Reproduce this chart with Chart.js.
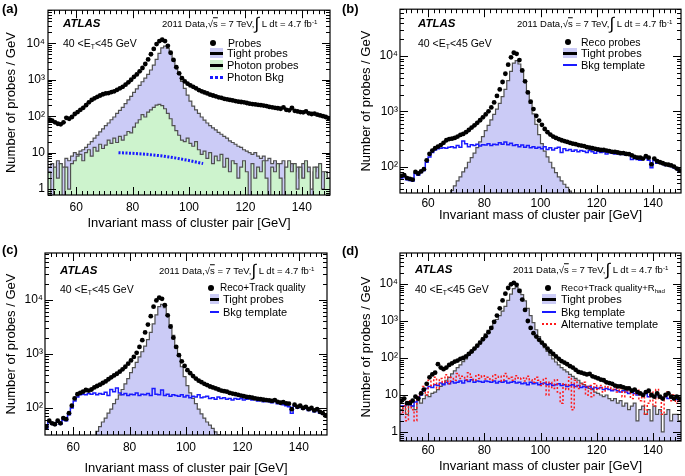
<!DOCTYPE html>
<html>
<head>
<meta charset="utf-8">
<script src="https://cdn.jsdelivr.net/npm/chart.js@4.4.0/dist/chart.umd.min.js"></script>
<style>
  body { margin: 0; background: #fff; width: 685px; height: 476px; position: relative; overflow: hidden;
         font-family: "Liberation Sans", Arial, sans-serif; color: #000; }
  canvas { position: absolute; }
  .t { position: absolute; white-space: nowrap; line-height: 1; transform: translateY(-50%); }
  .t sub { font-size: 65%; vertical-align: -0.35em; line-height: 0; }
  .t sup { font-size: 65%; vertical-align: 0.6em; line-height: 0; }
  .int { font-size: 17px; line-height: 0; vertical-align: -0.12em; }
  .m { position: absolute; }
</style>
</head>
<body>
<canvas id="pa" width="342" height="236" style="left:0;top:0"></canvas>
<canvas id="pb" width="343" height="236" style="left:342px;top:0"></canvas>
<canvas id="pc" width="342" height="240" style="left:0;top:236px"></canvas>
<canvas id="pd" width="343" height="240" style="left:342px;top:236px"></canvas>
<script>
// bins of 1 GeV, low edges 50 .. 149
const massBins = Array.from({length: 100}, (_, i) => 50 + i);
const xTickVals = [60, 80, 100, 120, 140];
const yDecades = [1, 10, 100, 1000, 10000];
const yDecadeLabels = ['1', '10', '10²', '10³', '10⁴'];

const tightProbes = [
  4, 5, 3, 6, 5, 4, 7, 6, 8, 10,
  9, 11, 12, 14, 17, 20, 25, 30, 37, 45,
  55, 65, 80, 95, 120, 145, 175, 220, 280, 350,
  450, 560, 700, 880, 1100, 1400, 1850, 2500, 3600, 5300,
  7500, 8300, 7200, 5200, 3500, 2200, 1400, 900, 580, 380,
  260, 190, 150, 120, 95, 78, 65, 55, 48, 42,
  36, 32, 28, 25, 21, 19, 17, 15, 14, 12,
  11, 10, 9, 10, 8, 7, 8, 6, 7, 5,
  6, 4, 5, 6, 2, 4, 5, 3, 4, 2,
  5, 3, 4, 1, 3, 4, 2, 3, 3, 2
];

// (a)
const probesA = [
  80, 75, 68, 62, 60, 68, 90, 85, 95, 115,
  130, 150, 170, 200, 240, 280, 310, 340, 370, 400,
  420, 430, 460, 480, 530, 580, 640, 730, 850, 1000,
  1200, 1400, 1700, 2100, 2700, 3600, 5000, 7000, 9500, 11500,
  12500, 11500, 8500, 5500, 3500, 2200, 1500, 1100, 900, 780,
  700, 640, 580, 520, 480, 450, 420, 390, 370, 350,
  330, 320, 300, 290, 280, 270, 260, 250, 245, 240,
  230, 220, 215, 210, 205, 200, 195, 190, 180, 175,
  170, 165, 160, 175, 150, 145, 170, 140, 135, 130,
  128, 135, 120, 115, 118, 110, 105, 100, 95, 88
];
const photonProbesA = [
  3, 0, 4, 2, 5, 0, 4, 1, 5, 6,
  8, 9, 6, 10, 12, 8, 14, 11, 17, 13,
  16, 22, 18, 25, 19, 28, 22, 30, 38, 35,
  50, 65, 80, 110, 95, 130, 150, 175, 200, 210,
  195, 160, 120, 85, 55, 40, 30, 22, 20, 25,
  18, 15, 20, 12, 9, 11, 7, 10, 5, 8,
  6, 9, 4, 7, 3, 6, 5, 2, 4, 6,
  3, 0, 5, 2, 4, 3, 6, 2, 0, 4,
  3, 5, 2, 0, 4, 6, 3, 5, 1, 4,
  2, 6, 3, 0, 4, 2, 5, 1, 3, 2
];
const photonBkgMass = [75, 80, 85, 90, 95, 100, 105];
const photonBkgA = [10, 9.6, 9.0, 8.2, 7.2, 6.1, 5.0];

// (b)
const recoProbesB = [
  68, 70, 62, 60, 58, 80, 75, 82, 90, 130,
  170, 195, 215, 230, 245, 270, 300, 315, 320, 330,
  350, 375, 390, 420, 460, 510, 560, 620, 690, 780,
  880, 1000, 1180, 1450, 1900, 2500, 3400, 4800, 7000, 9500,
  11500, 11000, 8500, 5500, 3500, 2200, 1500, 1100, 830, 680,
  570, 480, 420, 380, 350, 330, 315, 300, 290, 280,
  270, 260, 255, 245, 240, 235, 225, 220, 215, 210,
  205, 200, 200, 195, 190, 185, 185, 180, 175, 175,
  170, 168, 160, 150, 145, 145, 140, 155, 145, 110,
  140, 125, 120, 115, 110, 108, 105, 100, 92, 85
];
const bkgTemplateB = [
  62, 65, 58, 56, 55, 75, 70, 78, 85, 120,
  150, 180, 200, 210, 215, 220, 215, 225, 230, 220,
  240, 225, 290, 260, 230, 250, 240, 255, 235, 250,
  245, 260, 240, 255, 250, 270, 255, 280, 250, 265,
  240, 250, 230, 245, 225, 240, 220, 230, 215, 225,
  210, 230, 205, 220, 200, 215, 225, 180, 210, 195,
  205, 190, 200, 185, 195, 190, 180, 195, 185, 175,
  190, 180, 185, 170, 180, 175, 170, 180, 165, 170,
  160, 165, 135, 140, 135, 130, 140, 145, 130, 95,
  130, 115, 120, 110, 105, 108, 100, 95, 90, 82
];

// (c)
const trackProbesC = [
  45, 58, 52, 50, 58, 52, 65, 62, 80, 110,
  150, 180, 190, 200, 215, 210, 220, 240, 255, 270,
  290, 310, 340, 370, 400, 430, 470, 520, 580, 660,
  760, 880, 1050, 1350, 1800, 2500, 3500, 5000, 7500, 9800,
  11000, 10500, 8000, 5200, 3200, 2000, 1350, 950, 730, 600,
  500, 440, 390, 350, 320, 300, 280, 265, 250, 240,
  230, 220, 210, 205, 200, 190, 185, 180, 175, 170,
  165, 160, 158, 155, 150, 148, 145, 142, 140, 138,
  135, 140, 130, 125, 128, 122, 120, 95, 115, 105,
  110, 100, 105, 95, 100, 90, 95, 85, 80, 72
];
const bkgTemplateC = [
  42, 55, 50, 48, 55, 50, 60, 58, 75, 100,
  135, 160, 175, 180, 175, 185, 180, 190, 175, 185,
  180, 195, 170, 220, 200, 235, 190, 175, 185, 170,
  180, 175, 190, 170, 180, 175, 185, 170, 230, 180,
  175, 215, 170, 180, 165, 175, 170, 165, 175, 160,
  170, 155, 165, 160, 175, 155, 160, 165, 150, 155,
  145, 160, 150, 155, 145, 150, 140, 150, 145, 150,
  140, 145, 150, 140, 145, 135, 140, 130, 135, 130,
  125, 135, 120, 125, 115, 110, 105, 80, 110, 100,
  105, 95, 100, 90, 95, 85, 90, 80, 78, 70
];

// (d)
const rhadProbesD = [
  7, 8, 6, 6, 7, 9, 8, 11, 14, 20,
  30, 36, 40, 68, 55, 50, 55, 65, 72, 80,
  85, 95, 100, 110, 130, 150, 180, 215, 260, 320,
  390, 500, 650, 950, 1400, 2200, 3600, 5500, 7800, 9800,
  10800, 9500, 6500, 3800, 2000, 1000, 650, 470, 380, 310,
  260, 220, 180, 150, 130, 110, 95, 82, 75, 68,
  60, 55, 48, 42, 40, 38, 36, 37, 32, 30,
  28, 26, 25, 22, 21, 20, 18, 17, 17, 16,
  15, 15, 13, 14, 12, 11, 10, 12, 13, 10,
  9, 11, 9, 8, 10, 11, 9, 8, 9, 8
];
const bkgTemplateD = [
  5, 5, 5.5, 6, 5, 6.5, 8, 10, 13, 15,
  17, 16, 19, 18, 21, 19, 22, 20, 23, 21,
  22, 24, 21, 25, 23, 26, 22, 24, 23, 22,
  24, 23, 22, 24, 21, 23, 22, 24, 21, 22,
  23, 21, 22, 20, 21, 19, 22, 20, 21, 19,
  20, 21, 19, 20, 18, 19, 20, 18, 19, 17,
  18, 19, 17, 18, 16, 17, 16, 17, 15, 16,
  15, 16, 14, 15, 14, 13, 14, 13, 12, 13,
  12, 11, 12, 11, 10, 11, 10, 11, 9, 10,
  9, 10, 9, 8, 9, 8, 8.5, 8, 7.5, 7
];
const altTemplateD = [
  3, 5, 2, 7, 4, 2, 9, 12, 17, 10,
  25, 18, 30, 15, 28, 22, 35, 20, 30, 25,
  38, 28, 32, 26, 40, 30, 25, 35, 28, 33,
  27, 30, 25, 35, 28, 32, 24, 38, 28, 30,
  25, 33, 27, 29, 24, 32, 26, 22, 30, 25,
  18, 28, 10, 22, 15, 26, 12, 6, 20, 14,
  30, 4, 25, 15, 20, 22, 10, 18, 9, 20,
  14, 18, 12, 22, 16, 14, 19, 12, 15, 9,
  13, 16, 8, 11, 14, 7, 10, 3, 6, 12,
  5, 14, 8, 3, 9, 12, 7, 10, 6, 8
];

const LAVENDER = '#cbcbf6';
const GREEN = '#cdf3cd';
const OUTLINE = '#505050';
const BLUE = '#1a1aff';
const RED = '#ff1a1a';
const FONT = '"Liberation Sans", Arial, sans-serif';

Chart.defaults.font.family = FONT;
Chart.defaults.color = '#000';

function steps(vals) {
  const pts = vals.map((v, i) => ({x: massBins[i], y: v > 0 ? v : 1e-3}));
  pts.push({x: massBins[vals.length - 1] + 1, y: pts[pts.length - 1].y});
  return pts;
}
function hist(vals, color, fillColor, order, extra) {
  return Object.assign({
    data: steps(vals), stepped: 'before', borderColor: color, borderWidth: 1.2,
    backgroundColor: fillColor || 'transparent', fill: fillColor ? 'start' : false,
    pointRadius: 0, order: order
  }, extra || {});
}
function dots(vals) {
  return {
    data: vals.map((v, i) => ({x: massBins[i] + 0.5, y: v})), showLine: false,
    pointRadius: 2.4, pointBackgroundColor: '#000', pointBorderWidth: 0, borderColor: '#000', order: 0
  };
}

// frame with inward ticks on all four sides, ROOT style
const framePlugin = {
  id: 'frame',
  afterDatasetsDraw(chart) {
    const {ctx, chartArea: a, scales: {x, y}} = chart;
    ctx.save();
    ctx.strokeStyle = '#000';
    ctx.lineWidth = 1;
    const seg = (x1, y1, x2, y2) => { ctx.beginPath(); ctx.moveTo(x1, y1); ctx.lineTo(x2, y2); ctx.stroke(); };
    for (let v = 52; v < 150; v += 2) {
      const px = Math.round(x.getPixelForValue(v)) + 0.5;
      const len = xTickVals.includes(v) ? 8 : 4;
      seg(px, a.bottom, px, a.bottom - len);
      seg(px, a.top, px, a.top + len);
    }
    for (let e = Math.floor(Math.log10(y.min)); e <= Math.ceil(Math.log10(y.max)); e++) {
      for (let m = 1; m <= 9; m++) {
        const v = m * Math.pow(10, e);
        if (v < y.min || v > y.max) continue;
        const py = Math.round(y.getPixelForValue(v)) + 0.5;
        const len = m === 1 ? 8 : 4;
        seg(a.left, py, a.left + len, py);
        seg(a.right, py, a.right - len, py);
      }
    }
    ctx.lineWidth = 1.2;
    ctx.strokeRect(a.left, a.top, a.right - a.left, a.bottom - a.top);
    ctx.restore();
  }
};

function makePanel(id, p, datasets) {
  new Chart(document.getElementById(id), {
    type: 'line',
    data: {datasets: datasets},
    plugins: [framePlugin],
    options: {
      responsive: false, animation: false, devicePixelRatio: 1,
      layout: {padding: p.pad},
      plugins: {legend: {display: false}, tooltip: {enabled: false}},
      scales: {
        x: {
          type: 'linear', min: 50, max: 150,
          grid: {display: false, drawTicks: false}, border: {display: false},
          afterBuildTicks: s => { s.ticks = xTickVals.map(v => ({value: v})); },
          afterFit: s => { s.height = p.xH; },
          ticks: {autoSkip: false, maxRotation: 0, padding: p.xTickPad, font: {size: 12}},
          title: {display: true, text: 'Invariant mass of cluster pair [GeV]', font: {size: 13},
                  padding: {top: 0, bottom: p.xTitlePad}}
        },
        y: {
          type: 'logarithmic', min: p.yMin, max: p.yMax,
          grid: {display: false, drawTicks: false}, border: {display: false},
          afterBuildTicks: s => { s.ticks = p.yTicks.map(v => ({value: v})); },
          afterFit: s => { s.width = p.yW; },
          ticks: {padding: p.yTickPad, font: {size: 12},
                  callback: v => yDecadeLabels[yDecades.indexOf(v)] || ''},
          title: {display: true, text: 'Number of probes / GeV', font: {size: 13},
                  padding: {top: p.yTitlePad, bottom: 0}}
        }
      }
    }
  });
}

makePanel('pa', {pad: {left: 0, right: 12, top: 5, bottom: 0}, yW: 48, xH: 41, yMin: 0.69, yMax: 8.07e4,
                 yTicks: yDecades, yTitlePad: 4, xTitlePad: 5, xTickPad: 5, yTickPad: 3}, [
  dots(probesA),
  {data: photonBkgMass.map((m, i) => ({x: m, y: photonBkgA[i]})), borderColor: BLUE, borderWidth: 3,
   borderDash: [2, 1.5], pointRadius: 0, fill: false, order: 1},
  hist(photonProbesA, OUTLINE, GREEN, 2),
  hist(tightProbes, OUTLINE, LAVENDER, 3)
]);

makePanel('pb', {pad: {left: 0, right: 2, top: 5, bottom: 0}, yW: 58, xH: 43, yMin: 33.3, yMax: 7.07e4,
                 yTicks: yDecades.slice(2), yTitlePad: 17, xTitlePad: 13, xTickPad: 3, yTickPad: 2}, [
  dots(recoProbesB),
  hist(bkgTemplateB, BLUE, null, 1, {borderWidth: 1.5}),
  hist(tightProbes, OUTLINE, LAVENDER, 3)
]);

makePanel('pc', {pad: {left: 0, right: 15, top: 17, bottom: 0}, yW: 45, xH: 41, yMin: 31.6, yMax: 7.4e4,
                 yTicks: yDecades.slice(2), yTitlePad: 4, xTitlePad: 0, xTickPad: 5, yTickPad: 2}, [
  dots(trackProbesC),
  hist(bkgTemplateC, BLUE, null, 1, {borderWidth: 1.5}),
  hist(tightProbes, OUTLINE, LAVENDER, 3)
]);

makePanel('pd', {pad: {left: 0, right: 3, top: 17, bottom: 0}, yW: 58, xH: 35, yMin: 0.57, yMax: 6.9e4,
                 yTicks: yDecades, yTitlePad: 17, xTitlePad: 2, xTickPad: 2, yTickPad: 2}, [
  dots(rhadProbesD),
  hist(altTemplateD, RED, null, 1, {borderWidth: 1.5, borderDash: [2, 2]}),
  hist(bkgTemplateD, BLUE, null, 2, {borderWidth: 1.5}),
  hist(tightProbes, OUTLINE, LAVENDER, 3)
]);

// annotations and legends
function txt(x, y, html, size, extra) {
  const d = document.createElement('div');
  d.className = 't';
  d.style.cssText = 'left:' + x + 'px;top:' + y + 'px;font-size:' + size + 'px;' + (extra || '');
  d.innerHTML = html;
  document.body.appendChild(d);
}
function mark(kind, x1, x2, y) {
  const d = document.createElement('div');
  d.className = 'm';
  if (kind === 'dot') {
    d.style.cssText = 'left:' + (x1 - 3) + 'px;top:' + (y - 3) + 'px;width:6px;height:6px;border-radius:50%;background:#000';
  } else if (kind === 'tight' || kind === 'photon') {
    const bg = kind === 'tight' ? LAVENDER : GREEN;
    d.style.cssText = 'left:' + x1 + 'px;top:' + (y - 5) + 'px;width:' + (x2 - x1) + 'px;height:10px;background:' + bg;
    d.innerHTML = '<div style="position:absolute;left:0;right:0;top:4px;height:2.5px;background:#000"></div>';
  } else if (kind === 'blue') {
    d.style.cssText = 'left:' + x1 + 'px;top:' + (y - 1) + 'px;width:' + (x2 - x1) + 'px;height:2px;background:' + BLUE;
  } else if (kind === 'bluedot') {
    d.style.cssText = 'left:' + x1 + 'px;top:' + (y - 1.5) + 'px;width:' + (x2 - x1) + 'px;border-top:3px dotted ' + BLUE;
  } else {
    d.style.cssText = 'left:' + x1 + 'px;top:' + (y - 1) + 'px;width:' + (x2 - x1) + 'px;border-top:2px dotted ' + RED;
  }
  document.body.appendChild(d);
}

const ENERGY = '2011 Data,√<span style="text-decoration:overline">s</span> = 7 TeV,<span class="int">∫</span> L dt = 4.7 fb<sup>-1</sup>';
const ETBIN = '40 &lt;E<sub>T</sub>&lt;45 GeV';
const ATLAS = 'font-weight:bold;font-style:italic;';

txt(2, 8, '(a)', 13, 'font-weight:bold');
txt(63, 24, 'ATLAS', 11.5, ATLAS);
txt(162, 24, ENERGY, 9.5);
txt(63, 43, ETBIN, 10.5);
mark('dot', 213, 0, 43); txt(228, 43, 'Probes', 10.5);
mark('tight', 210, 223, 53); txt(227, 53, 'Tight probes', 11);
mark('photon', 210, 223, 65); txt(227, 65, 'Photon probes', 11);
mark('bluedot', 210, 223, 77); txt(227, 77, 'Photon Bkg', 11);

txt(342, 8, '(b)', 13, 'font-weight:bold');
txt(418, 24, 'ATLAS', 11.5, ATLAS);
txt(517, 24, ENERGY, 9.5);
txt(418, 43, ETBIN, 10.5);
mark('dot', 568, 0, 42); txt(581, 42, 'Reco probes', 10.5);
mark('tight', 563, 577, 53); txt(581, 53, 'Tight probes', 11);
mark('blue', 563, 577, 65); txt(581, 65, 'Bkg template', 11);

txt(2, 249, '(c)', 13, 'font-weight:bold');
txt(60, 271, 'ATLAS', 11.5, ATLAS);
txt(159, 271, ENERGY, 9.5);
txt(60, 289, ETBIN, 10.5);
mark('dot', 211, 0, 288); txt(220, 288, 'Reco+Track quality', 10);
mark('tight', 210, 219, 299); txt(223, 299, 'Tight probes', 11);
mark('blue', 210, 219, 312); txt(223, 312, 'Bkg template', 11);

txt(342, 250, '(d)', 13, 'font-weight:bold');
txt(415, 270, 'ATLAS', 11.5, ATLAS);
txt(513, 270, ENERGY, 9.5);
txt(415, 289, ETBIN, 10.5);
mark('dot', 548, 0, 288); txt(561, 288, 'Reco+Track quality+R<sub>had</sub>', 9.5);
mark('tight', 542, 556, 299); txt(561, 299, 'Tight probes', 11);
mark('blue', 542, 556, 312); txt(561, 312, 'Bkg template', 11);
mark('red', 542, 556, 324); txt(561, 324, 'Alternative template', 11);
</script>
</body>
</html>
